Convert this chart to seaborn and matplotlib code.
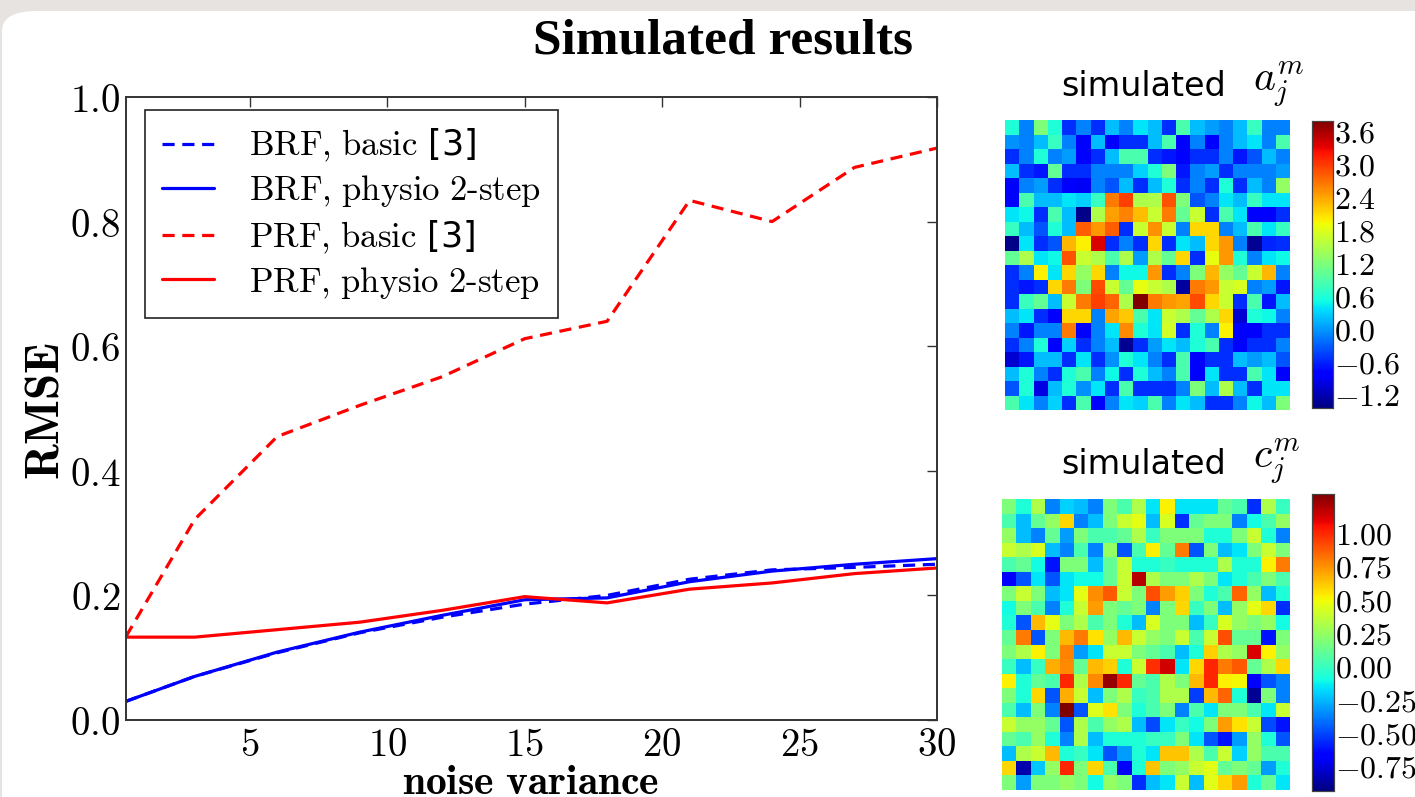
import numpy as np
import pandas as pd
import matplotlib
matplotlib.use("Agg")
import matplotlib.pyplot as plt
from matplotlib.patches import FancyBboxPatch
import seaborn as sns

# ---------------- data ----------------
noise_variance = [0.5, 3, 6, 9, 12, 15, 18, 21, 24, 27, 30]
brf_basic = [0.030, 0.070, 0.108, 0.140, 0.165, 0.186, 0.200, 0.226, 0.241, 0.245, 0.250]
brf_physio = [0.030, 0.070, 0.109, 0.141, 0.168, 0.193, 0.196, 0.222, 0.239, 0.250, 0.259]
prf_basic = [0.134, 0.322, 0.455, 0.505, 0.551, 0.612, 0.640, 0.834, 0.800, 0.887, 0.918]
prf_physio = [0.133, 0.133, 0.145, 0.157, 0.176, 0.198, 0.188, 0.210, 0.220, 0.235, 0.244]
series_labels = [r"$\mathrm{BRF{,}\ basic}$ [3]", r"$\mathrm{BRF{,}\ physio\ 2\text{-}step}$",
                 r"$\mathrm{PRF{,}\ basic}$ [3]", r"$\mathrm{PRF{,}\ physio\ 2\text{-}step}$"]
x_ticks = [5, 10, 15, 20, 25, 30]
y_ticks = [0.0, 0.2, 0.4, 0.6, 0.8, 1.0]

a_jm = [
    [0.59, -0.14, 1.17, 0.59, -0.56, -0.14, -0.56, 0.17, -0.14, 0.38, 0.17, -0.56, 0.85, 0.17, 0.01, -0.14, 0.17, 0.72, -0.14, -0.14],
    [-0.05, -0.14, 0.17, 0.72, -0.14, -0.82, 0.17, -0.82, -0.56, -0.56, 0.17, 0.85, -0.82, -0.14, -0.82, -0.14, 0.17, 0.38, -0.14, 0.85],
    [-0.56, -0.14, 0.59, -0.14, 0.01, -0.82, -0.56, 0.17, 0.85, 0.85, -0.56, -0.69, -0.82, -0.56, -0.56, -0.14, -0.69, -0.35, 0.17, -0.14],
    [0.17, -0.56, -0.69, 1.01, -0.56, -0.56, -0.14, -0.14, -0.14, 0.28, 0.59, 1.17, -0.69, -0.14, 0.01, -0.56, -0.14, -0.14, -0.14, 0.01],
    [-0.82, -0.14, 0.01, -0.56, -0.82, -0.90, -0.14, -0.35, 0.17, -0.56, 0.17, 0.59, -0.56, -0.14, -0.56, 0.59, -0.56, 0.17, -0.14, 1.32],
    [-0.82, 0.85, 0.17, 0.17, 0.38, 0.28, 0.72, 2.63, 2.95, 1.48, 1.48, 2.85, 1.17, -0.35, -0.14, 0.38, 0.17, 0.72, 0.38, 0.38],
    [0.38, 0.49, -0.56, 0.85, 0.17, -1.40, 1.48, 2.42, 2.58, 2.26, 1.64, 2.63, 1.01, 1.64, -0.56, 0.85, 0.38, -0.82, -0.82, -0.56],
    [0.72, 0.17, -0.35, 0.59, 0.17, 2.79, 2.47, 2.79, -0.56, 1.64, 2.50, 1.64, -0.14, 2.11, 2.11, -0.14, 0.17, 0.85, 0.38, 0.72],
    [-1.40, 0.38, -0.56, -0.35, 2.29, 1.98, 3.36, -0.56, -0.14, -0.56, 2.11, -0.56, 0.38, 0.17, 2.11, 2.47, -0.14, -1.35, -0.60, -0.56],
    [1.01, 1.48, 0.38, 0.49, 2.85, 1.64, 1.48, 0.85, 1.48, 0.01, 1.48, 1.01, 2.11, -0.56, 1.85, 2.47, 0.59, -0.14, 0.38, 0.49],
    [-0.56, -0.14, 1.98, 0.38, 2.11, 1.32, 2.11, -0.14, 0.49, 0.49, 2.47, -0.56, -0.14, 1.17, 2.29, 1.32, 1.01, 1.64, 2.29, -0.14],
    [-0.56, -0.69, -0.56, 2.11, 2.63, 1.17, 2.89, 1.64, 1.01, 1.85, 1.64, 1.48, -1.30, 2.63, 2.47, 1.64, 1.75, -0.14, 0.01, -0.69],
    [-0.56, 0.75, 1.01, 0.17, 1.64, 2.63, 2.95, 2.75, 1.48, 3.78, 2.63, 2.47, 2.40, 2.89, 2.11, 1.64, -0.56, 0.85, -0.69, 0.17],
    [0.17, 0.38, -0.56, -0.82, 2.11, 2.11, -0.14, 2.40, 2.20, 0.85, 0.38, 1.64, 1.48, 1.01, 1.48, 2.11, -1.08, 0.59, 0.49, -0.14],
    [-0.14, -0.69, -0.14, -0.14, 2.63, -0.82, -0.14, 0.38, 2.55, 0.59, 0.38, 1.70, -0.56, 0.59, -0.14, 1.98, -0.82, -0.82, -0.56, -0.56],
    [-0.56, -0.14, 0.59, -0.82, 0.28, -0.56, -0.14, 0.17, -1.35, -0.56, 0.01, 0.38, 0.17, 0.59, 0.85, -0.56, -0.82, -0.56, -0.56, -0.14],
    [-1.08, -0.69, 0.17, 0.17, -0.56, 0.38, -0.56, -0.05, 0.59, 0.38, -0.14, -0.56, 0.85, -0.82, -0.56, -0.56, 0.17, 0.01, 0.17, -0.35],
    [0.17, 0.59, -0.14, -0.56, 0.59, 0.85, -0.14, 0.49, -0.56, 0.59, 0.17, -0.14, 0.85, -0.82, 0.38, -0.56, -0.56, 0.85, 0.38, -0.82],
    [-0.35, 0.59, -1.00, 0.17, 0.59, -0.05, 0.38, -0.56, 0.85, -0.56, -0.56, -0.56, -0.14, 1.17, 0.17, 1.48, 0.17, -0.56, 0.38, 0.38],
    [0.85, 0.38, -0.14, 0.28, -0.56, 0.85, -0.82, -0.14, 0.38, 0.28, 0.85, -0.14, 0.38, 0.17, -0.56, -0.56, -0.14, 0.49, 0.17, 1.17],
]
a_range = (-1.45, 3.78)
a_ticks = [-1.2, -0.6, 0.0, 0.6, 1.2, 1.8, 2.4, 3.0, 3.6]

c_jm = [
    [0.18, -0.07, 0.31, -0.38, -0.20, -0.25, -0.38, 0.18, 0.04, 0.31, -0.16, 0.52, -0.16, -0.16, -0.16, 0.11, 0.04, -0.56, 0.31, -0.01],
    [0.04, -0.25, 0.11, 0.24, 0.58, -0.38, -0.25, 0.18, 0.38, 0.46, -0.25, 0.42, -0.56, 0.11, 0.18, 0.18, -0.38, -0.11, 0.04, 0.24],
    [0.24, -0.25, -0.38, 0.11, -0.32, 0.18, 0.04, 0.04, 0.11, 0.31, -0.01, 0.18, 0.18, 0.18, -0.07, -0.07, 0.18, 0.38, -0.07, -0.38],
    [0.38, 0.31, 0.42, -0.25, -0.38, 0.04, -0.38, 0.24, -0.47, 0.04, 0.52, 0.11, 0.80, -0.47, 0.18, -0.25, -0.16, 0.18, 0.38, 0.18],
    [0.04, 0.11, -0.11, -0.62, 0.18, 0.18, -0.25, 0.11, 0.38, -0.07, -0.07, -0.01, -0.07, -0.07, -0.07, 0.31, -0.07, -0.07, 0.52, 0.80],
    [-0.67, -0.47, -0.16, -0.47, -0.16, -0.11, -0.11, 0.11, 0.38, 1.18, 0.31, 0.18, 0.18, 0.31, 0.18, -0.16, -0.07, 0.04, 0.18, 0.04],
    [0.18, 0.38, 0.18, -0.25, -0.16, 0.46, 0.75, 0.88, 0.38, 0.18, 0.90, 0.72, 0.60, 0.18, -0.07, 0.04, 0.85, 0.24, -0.25, -0.07],
    [-0.11, 0.18, 0.04, -0.38, -0.07, 0.38, 0.72, 0.18, 0.11, 0.18, -0.38, 0.18, 0.58, -0.01, 0.18, -0.25, 0.24, 0.46, 0.58, -0.56],
    [-0.07, -0.47, 0.65, 0.46, 0.18, 0.31, 0.04, 0.18, -0.07, -0.25, 0.42, 0.18, 0.18, -0.25, -0.01, 0.42, 0.24, 0.18, 0.24, -0.11],
    [0.11, 0.80, -0.47, 0.18, 0.65, 0.80, 0.55, 0.24, 0.65, 0.38, 0.24, 0.18, 0.38, 0.04, 0.38, 0.90, 0.11, 0.11, -0.62, 0.18],
    [0.18, 0.31, 0.52, 0.18, 0.78, -0.32, -0.16, 0.38, 0.38, 0.18, 0.11, 0.04, -0.25, -0.07, 0.60, 0.31, 0.24, 1.11, 0.52, 0.24],
    [-0.01, -0.25, -0.01, 0.68, 0.76, 0.11, 0.65, 0.60, -0.07, 0.38, 0.98, 1.13, -0.16, 0.58, 1.00, 0.80, 0.88, 0.11, 0.31, 0.58],
    [0.52, -0.07, 0.11, 0.04, 1.00, 0.31, 0.76, 1.24, 1.00, 0.11, 0.04, 0.31, 0.18, 0.65, 1.00, 0.52, 0.50, -0.67, -0.47, -0.38],
    [0.18, -0.07, 0.58, -0.47, 0.68, 0.38, -0.25, 0.18, 0.31, -0.01, 0.04, 0.31, 0.31, -0.53, 0.65, 0.85, -0.07, -0.90, 0.18, -0.38],
    [0.04, -0.25, 0.18, -0.38, 1.29, -0.47, 0.44, 0.55, 0.18, -0.07, 0.04, 0.18, -0.38, 0.04, -0.16, 0.18, 0.18, 0.04, -0.16, 0.38],
    [0.38, 0.24, 0.24, 0.11, -0.47, 0.31, 0.04, 0.24, 0.31, -0.25, -0.50, -0.16, -0.01, -0.11, 0.18, 0.72, 0.55, 0.38, -0.50, -0.62],
    [0.11, 0.04, 0.24, -0.07, -0.38, 0.31, -0.25, -0.07, -0.07, -0.07, -0.01, -0.01, 0.18, -0.16, -0.47, -0.62, -0.32, 0.24, -0.07, -0.47],
    [-0.25, 0.31, 0.38, 0.65, -0.07, -0.01, -0.16, -0.47, -0.32, -0.07, -0.16, 0.62, 0.62, 0.31, 0.04, 0.38, -0.20, 0.24, 0.04, 0.04],
    [0.58, -0.85, -0.22, 0.24, 1.00, 0.18, 0.58, 0.04, -0.67, -0.07, 0.62, 0.18, 0.24, 0.38, 0.45, 0.11, 0.18, 0.11, -0.32, -0.07],
    [0.18, -0.32, 0.18, 0.18, 0.24, 0.18, -0.11, 0.24, 0.18, -0.56, -0.25, -0.16, 0.38, -0.25, 0.45, 0.58, 0.72, -0.07, 0.11, -0.16],
]
c_range = (-0.94, 1.29)
c_ticks = [-0.75, -0.50, -0.25, 0.00, 0.25, 0.50, 0.75, 1.00]

# ---------------- style ----------------
sns.set_style("white")
plt.rcParams["font.family"] = ["DejaVu Sans"]
plt.rcParams["mathtext.fontset"] = "cm"
plt.rcParams["text.color"] = "black"
plt.rcParams["axes.labelcolor"] = "black"
plt.rcParams["xtick.color"] = "black"
plt.rcParams["ytick.color"] = "black"

W, H = 1415, 797
fig = plt.figure(figsize=(W / 100, H / 100), dpi=100, facecolor="#e7e3e0")


def fx(px):
    return px / W


def fy(py):
    return 1 - py / H


# white rounded slide panel (behind everything)
panel = FancyBboxPatch((fx(2), -0.1), 1.2, fy(11) + 0.1,
                       boxstyle="round,pad=0,rounding_size=0.025",
                       transform=fig.transFigure, facecolor="white",
                       edgecolor="none", zorder=-10)
fig.patches.append(panel)

fig.text(fx(723), fy(42), "Simulated results", family="Liberation Serif",
         weight="bold", fontsize=37, ha="center", va="center", color="black")

# ---------------- line chart ----------------
AX_L, AX_R, AX_T, AX_B = 126, 937, 97, 720
ax = fig.add_axes([fx(AX_L), fy(AX_B), fx(AX_R - AX_L), (AX_B - AX_T) / H])
ax.set_facecolor("white")
df = pd.DataFrame({"x": noise_variance, "brf_b": brf_basic, "brf_p": brf_physio,
                   "prf_b": prf_basic, "prf_p": prf_physio})
dash = (0, (3.8, 2.4))
specs = [("brf_b", "#0000ff", dash),
         ("brf_p", "#0000ff", "-"),
         ("prf_b", "#ff0000", dash),
         ("prf_p", "#ff0000", "-")]
for (col, color, ls), lab in zip(specs, series_labels):
    sns.lineplot(data=df, x="x", y=col, ax=ax, color=color, linestyle=ls,
                 linewidth=2.3, label=lab)

ax.set_xlim(0.5, 30)
ax.set_ylim(0, 1)
ax.set_xticks(x_ticks)
ax.set_xticklabels([f"${v}$" for v in x_ticks])
ax.set_yticks(y_ticks)
ax.set_yticklabels([f"${v:.1f}$" for v in y_ticks])
ax.tick_params(axis="both", which="both", direction="in", length=7, width=1,
               top=True, right=True, labelsize=28, colors="#333333",
               labelcolor="black", pad=4)
for s in ax.spines.values():
    s.set_visible(True)
    s.set_color("#333333")
    s.set_linewidth(1.4)
ax.set_xlabel(r"$\mathbf{noise\ variance}$", fontsize=30)
ax.xaxis.set_label_coords((531 - AX_L) / (AX_R - AX_L), -(782 - AX_B) / (AX_B - AX_T))
ax.xaxis.label.set_va("center")
ax.set_ylabel(r"$\mathbf{RMSE}$", fontsize=34)
ax.yaxis.set_label_coords(-(AX_L - 46) / (AX_R - AX_L), (AX_B - 411) / (AX_B - AX_T))
ax.yaxis.label.set_va("center")
leg = ax.legend(loc="upper left",
                bbox_to_anchor=(19 / (AX_R - AX_L), 1 - 13 / (AX_B - AX_T)),
                borderaxespad=0, fontsize=25, frameon=True, fancybox=False,
                framealpha=1, edgecolor="#222222", handlelength=1.5,
                handletextpad=1.0, borderpad=0.5, labelspacing=0.26)
leg.get_frame().set_linewidth(1.2)
for t in leg.get_texts():
    t.set_color("black")


# ---------------- heatmaps ----------------
def add_map(data, vrange, ticks, hpos, cpos, math_title, title_y, fmt):
    hax = fig.add_axes(hpos)
    cax = fig.add_axes(cpos)
    sns.heatmap(np.array(data), ax=hax, cbar_ax=cax, cmap="jet",
                vmin=vrange[0], vmax=vrange[1], xticklabels=False,
                yticklabels=False, square=False, linewidths=0)
    cax.set_yticks(ticks)
    cax.set_yticklabels([("$" + fmt.format(t) + "$") for t in ticks])
    cax.tick_params(labelsize=23, length=3, width=0.8, direction="in", pad=1,
                    labelcolor="black")
    for s in cax.spines.values():
        s.set_visible(True)
        s.set_linewidth(0.8)
        s.set_color("#444444")
    fig.text(fx(1226), fy(title_y), "simulated", fontsize=24, ha="right",
             va="center", color="black")
    fig.text(fx(1253), fy(title_y - 2), math_title, fontsize=30, ha="left",
             va="center", color="black")


add_map(a_jm, a_range, a_ticks,
        [fx(1005), fy(410), fx(285), 290 / H],
        [fx(1312), fy(408), fx(21), 287 / H],
        r"$a_j^m$", 87, "{:.1f}")
add_map(c_jm, c_range, c_ticks,
        [fx(1002), fy(790), fx(288), 291 / H],
        [fx(1312), fy(791), fx(22), 297 / H],
        r"$c_j^m$", 464, "{:.2f}")

fig.savefig("out.png", dpi=100, facecolor=fig.get_facecolor())
